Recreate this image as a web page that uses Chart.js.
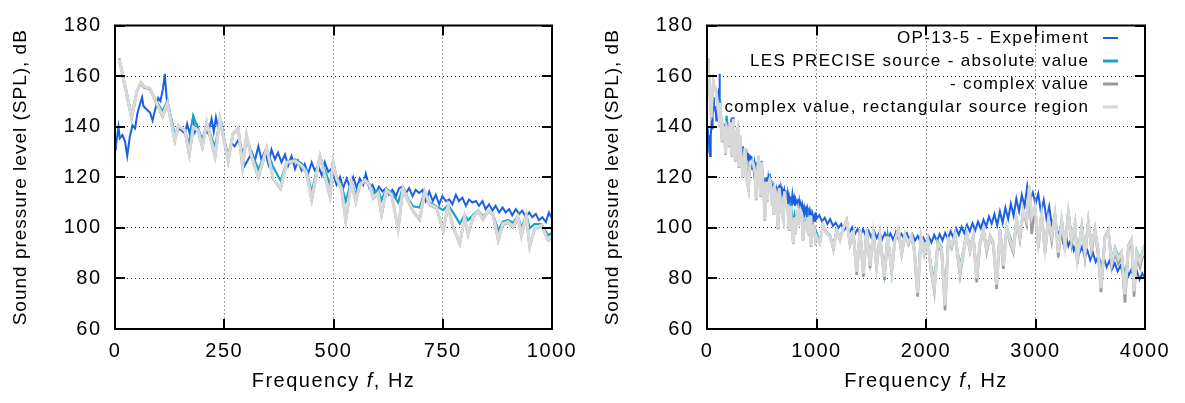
<!DOCTYPE html>
<html>
<head>
<meta charset="utf-8">
<script src="https://cdn.jsdelivr.net/npm/chart.js@4.4.1/dist/chart.umd.min.js"></script>
<style>
body { margin: 0; background: #fff; }
#wrap { position: relative; width: 1185px; height: 403px; }
canvas { position: absolute; top: 0; }
</style>
</head>
<body>
<div id="wrap">
<canvas id="chartLow" width="592" height="403" style="left:0px"></canvas>
<canvas id="chartFull" width="593" height="403" style="left:592px"></canvas>
</div>
<script>
var seriesLabels = ['OP-13-5 - Experiment', 'LES PRECISE source - absolute value',
	'- complex value', 'complex value, rectangular source region'];
var yTicks = [60, 80, 100, 120, 140, 160, 180];
var xTicksLow = [0, 250, 500, 750, 1000];
var xTicksFull = [0, 1000, 2000, 3000, 4000];

// experiment, 0-1000 Hz
var expFreqL = [0,2,8,11,17,23,28,34,40,46,
	51,57,62,65,72,80,86,91,99,104,
	110,114,118,124,132,137,145,152,160,165,
	171,178,183,188,194,200,206,213,221,226,
	231,236,244,252,259,267,274,282,290,297,
	305,313,320,328,335,343,351,358,366,373,
	381,389,396,404,412,419,427,434,442,450,
	457,465,473,480,488,495,507,515,522,530,
	537,545,553,560,568,574,582,589,597,604,
	612,620,627,635,643,650,658,666,673,681,
	688,696,704,711,719,727,734,742,749,757,
	765,772,780,787,795,803,810,818,826,833,
	841,848,856,864,871,879,887,894,902,909,
	917,925,932,940,948,955,963,970,978,986,
	993,1000];
var expSplL = [133,132.2,139.9,135.4,136.7,134.1,128.4,136.1,140.5,139.3,
	145,148.8,151.6,148.2,146.9,145.6,142.4,146.2,151.3,150.1,
	155.2,160.9,151.3,146.2,141.1,136.1,139.3,138.6,137.3,141.1,
	137.3,143.1,138,140.5,137.3,132.2,138.6,137.3,143.1,138,
	143.7,139.3,141.1,133.5,128.4,133.5,132.2,134.8,131,124.6,
	127.1,129.7,126.5,132.2,127.1,130.3,125.2,131,127.1,129.7,
	125.9,129,124.6,128.4,123.3,126.5,122.7,125.2,121.4,125.9,
	122.7,124.6,120.8,125.9,122.1,123.3,117,120.1,115.7,119.5,
	116.3,120.1,115.7,119.5,117,121.4,115.7,117,113.8,116.3,
	114.4,115.7,113.1,115,112.5,115.7,116.3,113.8,115.7,112.5,
	115,113.8,115,110.6,114.4,110.6,113.1,109.3,112.5,110.6,
	111.2,109.3,113.1,110.6,111.9,108.7,111.2,110,110.6,108.7,
	110.6,107.4,109.3,106.8,108.7,106.1,108,106.1,107.4,104.9,
	107.4,105.5,106.8,104.2,106.1,104.2,105.5,103,104.2,102.3,
	106.1,103.6];

// LES, 0-1000 Hz
var lesFreqL = [10,38,50,59,67,80,95,109,120,137,
	145,160,170,179,190,200,210,217,229,240,
	259,270,282,292,301,310,328,347,362,379,
	393,412,427,438,450,469,492,499,507,518,
	528,541,551,560,572,582,591,602,610,621,
	633,648,659,671,682,697,709,720,736,751,
	762,774,789,800,808,819,831,842,854,865,
	877,888,900,911,922,930,941,949,960,976,
	991,1000];
var lesAbsL = [167,144.5,154,157,155.5,155,150,146,150.5,136,
	140.5,138.5,133,144.3,139,135,141.5,137.5,132,142.5,
	128,137,139.5,127,136,131,123,131,124,118.6,
	126,127,125.5,123,114,128.5,117,126.5,120,117,
	110.6,118.5,113,117.5,119,117.5,113.5,115,111,115.5,
	114,110,116,111.5,108.5,108,114.5,110,108.5,107,
	109,106,101.7,105,103,105,107,104.5,106.5,105.5,
	99,102.5,103,102,104.5,100,105,99.8,101.5,101.5,
	97,98];
var lesCplxL = [166.4,143.3,153.6,157.4,155.5,155,149.1,144,149.2,134.4,
	140.2,138.3,128.8,139.6,138.3,131.9,141.5,136.4,128.1,142.8,
	126.2,137.3,139,123.7,136.4,129.3,119.8,131.3,119.2,115.4,
	125.6,126.2,124.3,121.7,110.9,128.1,112.2,125.6,119.2,115.4,
	102.7,117.9,110.3,116.7,118.6,116.7,111.6,113.5,105.2,114.7,
	112.8,99.5,115.4,110.3,106.5,103.3,114.1,109,107.7,98.8,
	108.4,100.1,93.7,103.9,97.5,103.9,106.5,103.3,106.5,105.2,
	95,101.4,102,100.1,103.9,96.9,104.6,92.5,99.5,100.7,
	95,96.3];
var lesRectL = [166.6,143.7,153.9,157.7,155.8,155.3,149.4,144.3,149.4,134.8,
	140.5,138.6,129.1,139.9,138.6,132.2,141.8,136.7,128.4,143.1,
	126.5,137.6,139.3,124,136.7,129.6,120.1,131.6,119.5,115.7,
	125.9,126.5,124.6,122,111.2,128.4,112.5,125.9,119.5,115.7,
	103,118.2,110.6,117,118.9,117,111.9,113.8,105.5,115,
	113.1,99.8,115.7,110.6,106.8,103.6,114.4,109.3,108,99.1,
	108.7,100.4,94,104.2,97.8,104.2,106.8,103.6,106.8,105.5,
	95.3,101.7,102.3,100.4,104.2,97.2,104.9,92.8,99.8,101,
	95.3,96.6];

// experiment, 1000-4000 Hz
var expFreqR = [1025,1050,1075,1100,1125,1150,1175,1200,1225,1250,
	1275,1300,1325,1350,1375,1400,1425,1450,1475,1500,
	1525,1550,1575,1600,1625,1650,1675,1700,1725,1750,
	1775,1800,1825,1850,1875,1900,1925,1950,1975,2000,
	2025,2050,2075,2100,2125,2150,2175,2200,2225,2250,
	2275,2300,2325,2350,2375,2400,2425,2450,2475,2500,
	2525,2550,2575,2600,2625,2650,2675,2700,2725,2750,
	2775,2800,2825,2850,2875,2900,2925,2950,2975,3000,
	3025,3050,3075,3100,3125,3150,3175,3200,3225,3250,
	3275,3300,3325,3350,3375,3400,3425,3450,3475,3500,
	3525,3550,3575,3600,3625,3650,3675,3700,3725,3750,
	3775,3800,3825,3850,3875,3900,3925,3950,3975,4000];
var expSplR = [105,102.5,104,101.5,103.5,100.8,102,100,101.5,99,
	100.5,98,100.2,97.5,99.5,97,99.5,96.8,98.8,96.2,
	98.8,96,98.2,95.5,98,95.6,97.8,95.2,98.2,95.5,
	97.6,95.8,97.8,95.2,97.5,95,96.8,94.5,96.2,94,
	96.5,94.2,97.2,94.8,97.5,95,98,95.6,98.6,96,
	99.8,97.2,100.4,97.8,101.2,98.6,101.8,99,102.4,99.8,
	103.2,100.5,104.5,101.6,105.4,101,106.5,102,108,103.5,
	109.5,104.8,111.5,106.5,113,108.5,116.7,111,114,109.5,
	113.5,106,111,103.5,108.5,101,104.5,97.5,99,94.5,
	97.5,92.8,95.5,91,94,90,92.5,88.5,91,87.2,
	90,86.5,89,85.5,88,84.5,87,83.8,86,82.8,
	85,82,84.5,81,83.5,80.2,83,79.5,82,80];

// LES, 1000-4000 Hz
var lesFreqR = [1030,1060,1090,1123,1154,1185,1215,1245,1275,1306,
	1337,1367,1398,1428,1458,1489,1519,1549,1580,1620,
	1650,1687,1717,1747,1778,1808,1839,1869,1893,1924,
	1954,1985,2015,2046,2076,2107,2143,2174,2204,2235,
	2265,2311,2341,2371,2402,2432,2463,2493,2524,2554,
	2585,2615,2645,2676,2706,2737,2767,2797,2828,2858,
	2889,2919,2944,2965,2995,3026,3056,3087,3117,3148,
	3178,3209,3239,3269,3300,3330,3361,3382,3422,3452,
	3482,3513,3543,3574,3598,3635,3665,3696,3726,3756,
	3787,3817,3848,3878,3900,3924,3954,3985,4000];
var lesAbsR = [94.5,101,98.4,97,93,99.3,95.8,100.2,103,94.8,
	98,84,99.3,83.5,99.3,86.5,98,86.3,96.8,82.2,
	96.8,84.6,95.6,99.2,91.4,97.4,94.8,96.8,92.4,76.5,
	96.8,91.3,95.6,85.2,78.5,94.6,92.2,71.5,95.6,93.4,
	97.4,84.6,91.2,98,92.6,96.8,82,94.6,99.3,92.3,
	96.8,94.6,79.5,99.3,86.5,100,96.4,92.6,103.2,97.4,
	107,103.4,116,104.6,108.2,95.2,105.7,92.6,103.3,97.2,
	105.7,91.4,103.2,93.8,106.4,96,101.9,89,100.6,91.4,
	102.5,93.8,99.3,91.4,78,96.8,99.3,87.6,92.2,88.8,
	90.6,75.6,93.2,95.6,76.8,91,87.5,91.8,89.5];
var lesCplxR = [94,101,98,96.6,91.5,99,95.3,100,103,93.4,
	97.8,81.4,99.1,80.6,99.1,84.2,97.8,84.3,96.6,79.4,
	96.6,82.3,95.3,99.1,89.6,97.2,93.5,96.6,90.8,72.8,
	96.6,89.5,95.3,82.8,74.8,93.4,90.6,67.3,95.3,92.1,
	97.2,81.2,89.4,97.8,90.7,96.6,78.4,93.3,99.1,90.4,
	96.6,93.1,75.8,99.1,83.8,99.8,94.2,90.3,103,95.4,
	106.8,101.6,116.3,97.5,108,92.2,105.5,89.9,103,94.8,
	105.5,88.4,103,91.2,106.1,93.6,101.7,85.8,100.4,88.6,
	102.3,91,99.1,88.4,74.6,96.6,99.1,84.8,90.3,85.9,
	88.7,70.4,91.3,94.2,72.8,88.6,84.5,90.2,88];
var lesRectR = [94,101,98,96.6,92.1,99,95.3,100,103,94,
	97.8,82.6,99.1,81.9,99.1,85.1,97.8,85.1,96.6,80.6,
	96.6,83.2,95.3,99.1,90.2,97.2,94,96.6,91.5,74.3,
	96.6,90.2,95.3,83.8,76.2,94,91.5,69.2,95.3,92.8,
	97.2,82.6,90.2,97.8,91.5,96.6,80,94,99.1,91.5,
	96.6,94,77.5,99.1,85.1,99.8,95.3,91.5,103,96.6,
	106.8,103,116.3,104.2,108,94,105.5,91.5,103,96.6,
	105.5,90.2,103,92.8,106.1,95.3,101.7,87.7,100.4,90.2,
	102.3,92.8,99.1,90.2,76.2,96.6,99.1,86.4,91.5,87.7,
	90.2,73.6,92.8,95.3,74.9,90.2,86.4,91.5,89];

var colors = ['#1b5fe3', '#15a3c6', '#9a9a9a', '#d8d8d8'];
var widths = [2, 2.2, 2.6, 3];
var FONT = 'Liberation Sans, Arial, sans-serif';

function pairs(xs, ys) {
	return xs.map(function(x, i) { return {x: x, y: ys[i]}; });
}

var framePlugin = {
	id: 'frame',
	beforeDraw: function(chart) {
		chart.ctx.letterSpacing = '1.5px';
	},
	afterDatasetsDraw: function(chart) {
		var ctx = chart.ctx, a = chart.chartArea;
		var sx = chart.scales.x, sy = chart.scales.y;
		ctx.save();
		ctx.strokeStyle = '#000';
		ctx.lineWidth = 2;
		ctx.beginPath();
		sx.ticks.forEach(function(t) {
			var px = Math.round(sx.getPixelForValue(t.value));
			ctx.moveTo(px, a.bottom); ctx.lineTo(px, a.bottom - 10);
			ctx.moveTo(px, a.top); ctx.lineTo(px, a.top + 10);
		});
		sy.ticks.forEach(function(t) {
			var py = Math.round(sy.getPixelForValue(t.value));
			ctx.moveTo(a.left, py); ctx.lineTo(a.left + 10, py);
			ctx.moveTo(a.right, py); ctx.lineTo(a.right - 10, py);
		});
		ctx.stroke();
		ctx.strokeRect(a.left, a.top, a.right - a.left, a.bottom - a.top);
		ctx.restore();
	},
	afterDraw: function(chart, args, opts) {
		var ctx = chart.ctx, a = chart.chartArea;
		ctx.save();
		ctx.fillStyle = '#000';
		// x title with italic f
		ctx.letterSpacing = '1.5px';
		ctx.textBaseline = 'middle';
		ctx.textAlign = 'left';
		var parts = [['Frequency ', 'normal'], ['f', 'italic'], [', Hz', 'normal']];
		var total = 0;
		parts.forEach(function(p) {
			ctx.font = p[1] + ' 20px ' + FONT;
			p.push(ctx.measureText(p[0]).width);
			total += p[2];
		});
		var x = (a.left + a.right) / 2 - total / 2;
		parts.forEach(function(p) {
			ctx.font = p[1] + ' 20px ' + FONT;
			ctx.fillText(p[0], x, 381);
			x += p[2];
		});
		// y title
		ctx.letterSpacing = '1px';
		ctx.font = '19px ' + FONT;
		ctx.textAlign = 'center';
		ctx.translate(21, (a.top + a.bottom) / 2);
		ctx.rotate(-Math.PI / 2);
		ctx.fillText('Sound pressure level (SPL), dB', 0, 0);
		ctx.restore();

		if (opts.legend) {
			ctx.save();
			ctx.letterSpacing = '1.35px';
			ctx.font = '17px ' + FONT;
			ctx.textAlign = 'right';
			ctx.textBaseline = 'middle';
			chart.data.datasets.forEach(function(ds, i) {
				var y = 38 + 23 * i;
				ctx.fillStyle = '#000';
				ctx.fillText(ds.label, a.right - 55.7, y);
				ctx.strokeStyle = ds.borderColor;
				ctx.lineWidth = i === 0 ? 2 : 3;
				ctx.beginPath();
				ctx.moveTo(a.right - 42, y);
				ctx.lineTo(a.right - 27, y);
				ctx.stroke();
			});
			ctx.restore();
		}
	}
};

function plainLabel(v) { return String(v); }

function makeChart(id, xTicks, data, legend) {
	var ctx = document.getElementById(id).getContext('2d');
	var datasets = data.map(function(d, i) {
		return {
			label: seriesLabels[i],
			data: d,
			borderColor: colors[i],
			backgroundColor: colors[i],
			borderWidth: widths[i],
			pointRadius: 0,
			fill: false,
			tension: 0,
			order: 4 - i
		};
	});
	return new Chart(ctx, {
		type: 'line',
		data: { datasets: datasets },
		options: {
			responsive: false,
			animation: false,
			devicePixelRatio: 1,
			layout: { padding: { top: 15, right: 40, bottom: 0, left: 0 } },
			plugins: {
				legend: { display: false },
				tooltip: { enabled: false },
				frame: { legend: legend }
			},
			scales: {
				x: {
					type: 'linear',
					min: xTicks[0],
					max: xTicks[xTicks.length - 1],
					afterBuildTicks: function(s) { s.ticks = xTicks.map(function(v) { return {value: v}; }); },
					afterFit: function(s) { s.height = 74; },
					ticks: { color: '#000', padding: 10, maxRotation: 0, autoSkip: false,
						callback: plainLabel, font: { family: FONT, size: 20 } },
					grid: { color: '#333', lineWidth: 1, drawTicks: false },
					border: { display: false, dash: [1, 3] }
				},
				y: {
					type: 'linear',
					min: yTicks[0],
					max: yTicks[yTicks.length - 1],
					afterBuildTicks: function(s) { s.ticks = yTicks.map(function(v) { return {value: v}; }); },
					afterFit: function(s) { s.width = 115; },
					ticks: { color: '#000', padding: 13.5, callback: plainLabel,
						font: { family: FONT, size: 20 } },
					grid: { color: '#333', lineWidth: 1, drawTicks: false },
					border: { display: false, dash: [1, 3] }
				}
			}
		},
		plugins: [framePlugin]
	});
}

makeChart('chartLow', xTicksLow, [
	pairs(expFreqL, expSplL),
	pairs(lesFreqL, lesAbsL),
	pairs(lesFreqL, lesCplxL),
	pairs(lesFreqL, lesRectL)
], false);

makeChart('chartFull', xTicksFull, [
	pairs(expFreqL.concat(expFreqR), expSplL.concat(expSplR)),
	pairs(lesFreqL.concat(lesFreqR), lesAbsL.concat(lesAbsR)),
	pairs(lesFreqL.concat(lesFreqR), lesCplxL.concat(lesCplxR)),
	pairs(lesFreqL.concat(lesFreqR), lesRectL.concat(lesRectR))
], true);
</script>
</body>
</html>
